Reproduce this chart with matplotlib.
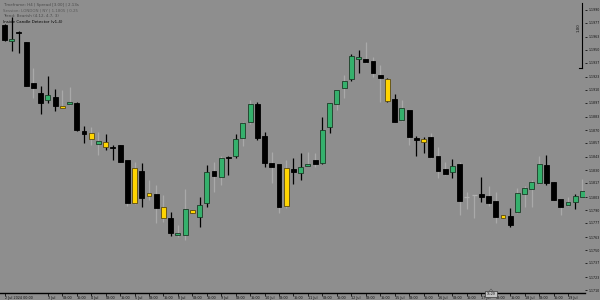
import matplotlib
matplotlib.use("Agg")
import matplotlib.pyplot as plt
from matplotlib.patches import Rectangle, Polygon
from matplotlib.lines import Line2D

# ---------------- data ----------------
opens = [1.1975, 1.1959, 1.1968, 1.1958, 1.1917, 1.1907, 1.1900, 1.1903, 1.1894, 1.1896,
         1.1897, 1.1869, 1.1867, 1.1856, 1.1858, 1.1853, 1.1855, 1.1840, 1.1832, 1.1829,
         1.1807, 1.1806, 1.1793, 1.1782, 1.1765, 1.1765, 1.1790, 1.1783, 1.1797, 1.1829,
         1.1823, 1.1843, 1.1844, 1.1862, 1.1878, 1.1896, 1.1864, 1.1837, 1.1836, 1.1832,
         1.1831, 1.1827, 1.1834, 1.1840, 1.1837, 1.1873, 1.1896, 1.1912, 1.1921, 1.1941,
         1.1941, 1.1939, 1.1925, 1.1921, 1.1901, 1.1880, 1.1890, 1.1862, 1.1861, 1.1863,
         1.1844, 1.1831, 1.1828, 1.1836, 1.1803, 1.1805, 1.1806, 1.1804, 1.1799, 1.1785,
         1.1784, 1.1788, 1.1806, 1.1811, 1.1817, 1.1835, 1.1818, 1.1801, 1.1795, 1.1798,
         1.1803]
highs = [1.1976, 1.1983, 1.1969, 1.1958, 1.1932, 1.1914, 1.1924, 1.1911, 1.1910, 1.1913,
         1.1898, 1.1874, 1.1873, 1.1868, 1.1866, 1.1855, 1.1855, 1.1840, 1.1838, 1.1837,
         1.1820, 1.1815, 1.1805, 1.1788, 1.1775, 1.1811, 1.1790, 1.1803, 1.1835, 1.1838,
         1.1844, 1.1844, 1.1866, 1.1878, 1.1900, 1.1898, 1.1868, 1.1848, 1.1836, 1.1840,
         1.1842, 1.1847, 1.1848, 1.1847, 1.1883, 1.1897, 1.1910, 1.1925, 1.1946, 1.1950,
         1.1958, 1.1943, 1.1935, 1.1922, 1.1906, 1.1900, 1.1890, 1.1864, 1.1863, 1.1867,
         1.1853, 1.1838, 1.1841, 1.1838, 1.1808, 1.1805, 1.1823, 1.1814, 1.1808, 1.1785,
         1.1792, 1.1812, 1.1814, 1.1820, 1.1844, 1.1845, 1.1818, 1.1801, 1.1803, 1.1806,
         1.1821]
lows = [1.1959, 1.1949, 1.1947, 1.1914, 1.1902, 1.1886, 1.1897, 1.1889, 1.1892, 1.1895,
        1.1869, 1.1857, 1.1855, 1.1845, 1.1850, 1.1840, 1.1838, 1.1794, 1.1796, 1.1793,
        1.1800, 1.1777, 1.1778, 1.1764, 1.1763, 1.1760, 1.1787, 1.1773, 1.1793, 1.1808,
        1.1815, 1.1825, 1.1842, 1.1854, 1.1876, 1.1860, 1.1833, 1.1817, 1.1787, 1.1792,
        1.1816, 1.1820, 1.1834, 1.1833, 1.1836, 1.1867, 1.1890, 1.1902, 1.1919, 1.1927,
        1.1937, 1.1923, 1.1898, 1.1898, 1.1878, 1.1879, 1.1855, 1.1844, 1.1847, 1.1842,
        1.1822, 1.1825, 1.1822, 1.1785, 1.1791, 1.1782, 1.1798, 1.1794, 1.1777, 1.1782,
        1.1773, 1.1787, 1.1793, 1.1793, 1.1816, 1.1815, 1.1800, 1.1785, 1.1794, 1.1791,
        1.1803]
closes = [1.1960, 1.1961, 1.1967, 1.1914, 1.1912, 1.1897, 1.1905, 1.1894, 1.1892, 1.1898,
          1.1870, 1.1866, 1.1861, 1.1859, 1.1853, 1.1852, 1.1838, 1.1797, 1.1797, 1.1802,
          1.1804, 1.1792, 1.1782, 1.1767, 1.1767, 1.1791, 1.1787, 1.1795, 1.1828, 1.1824,
          1.1842, 1.1842, 1.1861, 1.1877, 1.1896, 1.1862, 1.1837, 1.1833, 1.1793, 1.1794,
          1.1828, 1.1833, 1.1836, 1.1836, 1.1870, 1.1897, 1.1910, 1.1919, 1.1944, 1.1943,
          1.1938, 1.1927, 1.1922, 1.1899, 1.1878, 1.1892, 1.1863, 1.1860, 1.1858, 1.1843,
          1.1829, 1.1826, 1.1834, 1.1799, 1.1803, 1.1805, 1.1803, 1.1797, 1.1783, 1.1782,
          1.1775, 1.1807, 1.1812, 1.1818, 1.1836, 1.1817, 1.1800, 1.1793, 1.1798, 1.1804,
          1.1809]
# body colour code: b = black, g = green, y = yellow, n = grey doji
body_code = ("b g b b b b g b y g "
             "b b y g y b b b y b "
             "y b y b g g y g g b "
             "g b g g g b b b b y "
             "b g g b g g g g g g "
             "b b b y b g b b y b "
             "b b g b n n b b b y "
             "b g g g g b b b g g "
             "g").split()
# wick colour code: k = black, s = light grey
wick_code = ("k k k k s k k k s s "
             "k k s s k k k s s k "
             "s s s k s s k k k s "
             "s k k s s k k s s s "
             "k k s s k k s s k k "
             "s s s k k s s k k s "
             "s s k s s s k s s k "
             "k s s s s k k s s k "
             "s").split()

price_ticks = [1.1990, 1.1977, 1.1963, 1.1950, 1.1937, 1.1923, 1.1910, 1.1897, 1.1883, 1.1870,
               1.1857, 1.1843, 1.1830, 1.1817, 1.1803, 1.1790, 1.1777, 1.1763, 1.1750, 1.1737,
               1.1723, 1.1710]
time_tick_idx = [0] + list(range(6, 79, 2))
time_labels = ["2 Jul 2024 00:00",
               "3 Jul", "08:00", "16:00", "4 Jul", "08:00", "16:00", "5 Jul", "08:00", "16:00",
               "8 Jul", "08:00", "16:00", "9 Jul", "08:00", "16:00", "10 Jul", "08:00", "16:00",
               "11 Jul", "08:00", "16:00", "12 Jul", "08:00", "16:00", "15 Jul", "08:00", "16:00",
               "16 Jul", "08:00", "16:00", "17 Jul", "08:00", "16:00", "18 Jul", "08:00", "16:00",
               "19 Jul"]
info_lines = ["Timeframe: H4 | Spread [3.00] | 2.13s",
              "Session: LONDON | NY | 1.1805 | 0.25",
              "Trend: Bearish (4.12, 4.7, 3)",
              "Inside Candle Detector (v1.4)"]
info_colors = ["#4a4a4a", "#5a5a5a", "#4a4a4a", "#000000"]

# ---------------- style ----------------
BG = "#8e8e8e"
COL = {"b": "#000000", "g": "#35b06c", "y": "#ffd400", "n": "#b0b0b0"}
EDGE = {"b": "#000000", "g": "#1c3a26", "y": "#5a4a10", "n": "#b0b0b0"}
WICK = {"k": "#000000", "s": "#a9a9a9"}

fig = plt.figure(figsize=(6, 3), dpi=100, facecolor=BG)
ax = fig.add_axes([0, 7 / 300, 585 / 600, 293 / 300], facecolor=BG)
ax.set_xlim(-0.623, 80.35)
ax.set_ylim(1.1707, 1.2000)

bw = 0.68
for i in range(len(opens)):
    o, h, l, c = opens[i], highs[i], lows[i], closes[i]
    bc = body_code[i]
    wc = wick_code[i]
    ax.vlines(i, l, h, color=WICK[wc], lw=0.9, zorder=2)
    lo_b, hi_b = min(o, c), max(o, c)
    hgt = max(hi_b - lo_b, 0.00008)
    if bc == "n":
        ax.hlines(o, i - bw / 2, i + bw / 2, color=COL["n"], lw=0.9, zorder=3)
    else:
        ax.add_patch(Rectangle((i - bw / 2, lo_b), bw, hgt, facecolor=COL[bc],
                               edgecolor=EDGE[bc], lw=0.6, zorder=3))

# axes styling
for s in ["top", "left", "right"]:
    ax.spines[s].set_visible(False)
ax.spines["bottom"].set_color("#000000")
ax.spines["bottom"].set_linewidth(1.0)
ax.yaxis.tick_right()
ax.set_yticks(price_ticks)
ax.set_yticklabels([f"{v:.4f}" for v in price_ticks])
ax.tick_params(axis="y", length=1.5, width=0.6, pad=0.8, labelsize=2.3, colors="#111111")
ax.set_xticks(time_tick_idx)
ax.set_xticklabels(time_labels)
ax.tick_params(axis="x", length=2, width=0.6, pad=0.5, labelsize=2.4, colors="#111111")
for lab in ax.get_xticklabels():
    lab.set_horizontalalignment("left")

# top-left info text
for k, (t, c) in enumerate(zip(info_lines, info_colors)):
    fig.text(3 / 600, 1 - [5, 11, 16, 22][k] / 300, t, fontsize=2.9, color=c,
             va="center", ha="left")

# top-right scale bracket
fig.add_artist(Line2D([582 / 600, 582 / 600], [1 - 3 / 300, 1 - 68 / 300],
                      color="#000000", lw=0.8, transform=fig.transFigure))
fig.add_artist(Line2D([579 / 600, 582 / 600], [1 - 68 / 300, 1 - 68 / 300],
                      color="#000000", lw=0.8, transform=fig.transFigure))
fig.text(578.5 / 600, 1 - 28 / 300, "1.00", fontsize=2.8, rotation=90,
         va="center", ha="center", color="#111111")

# time marker box at bottom
fig.add_artist(Rectangle((485 / 600, 1 - 297 / 300), 12 / 600, 6 / 300,
                         facecolor="#c4c4c4", edgecolor="#3a3a3a", lw=0.5,
                         transform=fig.transFigure, zorder=5))
fig.text(491 / 600, 1 - 294 / 300, "15:29", fontsize=2.2, color="#000000",
         ha="center", va="center", zorder=6)
fig.add_artist(Polygon([[489.5 / 600, 1 - 291 / 300], [492.5 / 600, 1 - 291 / 300],
                        [491 / 600, 1 - 289 / 300]], closed=True,
                       facecolor="#e0e0e0", edgecolor="#3a3a3a", lw=0.4,
                       transform=fig.transFigure, zorder=6))

fig.savefig("out.png", dpi=100, facecolor=BG)
